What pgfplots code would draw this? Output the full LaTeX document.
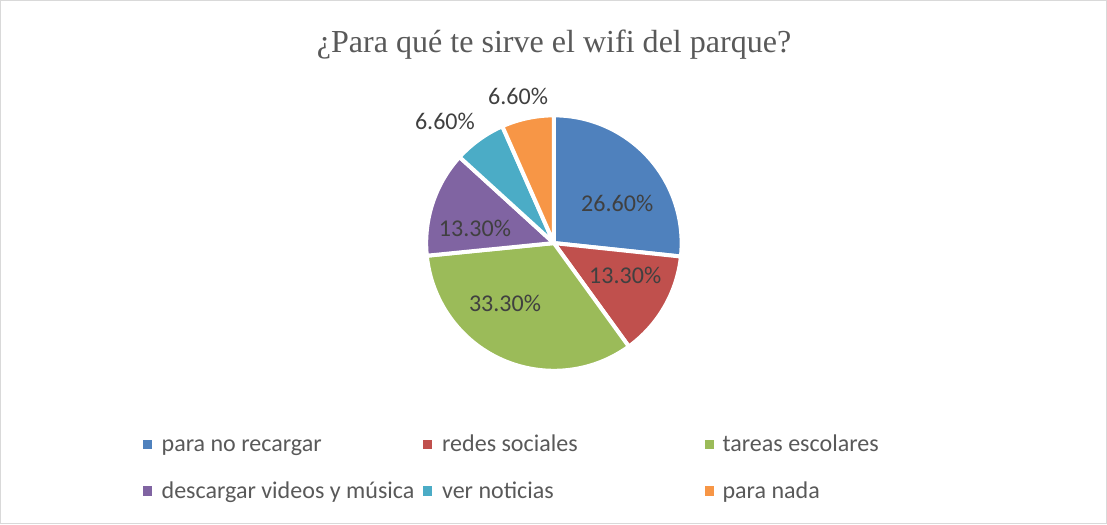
\documentclass[border=0pt]{standalone}
\usepackage{pgfplots}
\pgfplotsset{compat=1.18}
\usepackage{pgfplotstable}
\usepackage{fontspec}
\setmainfont{Carlito}
\newfontfamily\titlefont{Liberation Serif}
\definecolor{c1}{HTML}{4F81BD}
\definecolor{c2}{HTML}{C0504D}
\definecolor{c3}{HTML}{9BBB59}
\definecolor{c4}{HTML}{8064A2}
\definecolor{c5}{HTML}{4BACC6}
\definecolor{c6}{HTML}{F79646}
\definecolor{txtdark}{HTML}{404040}
\definecolor{txtgray}{HTML}{595959}
\definecolor{frame}{HTML}{D9D9D9}

% slice value, colour, label centre (x,y in pixels), legend marker centre
\pgfplotstableread{
value col lx ly gx gy
26.6 c1 617 204.5 148 445
13.3 c2 625 276 428 445
33.3 c3 505 304 709 445
13.3 c4 475 229.5 148 491
6.6 c5 445 122 428 491
6.6 c6 518 97 709 491
}\piedata

\begin{document}
\begin{tikzpicture}
\begin{axis}[
  scale only axis, width=1107pt, height=525pt,
  xmin=0, xmax=1107, ymin=0, ymax=525, y dir=reverse,
  hide axis, clip=false,
]
\draw[frame, line width=1.3pt] (axis cs:1.5,1.5) rectangle (axis cs:1105.3,523.3);
\node[txtgray, font=\titlefont\fontsize{32}{38}\selectfont] at (axis cs:554,45) {¿Para qué te sirve el wifi del parque?};
\def\astart{90}
\pgfplotsforeachungrouped \i in {0,...,5}{%
  \pgfplotstablegetelem{\i}{value}\of\piedata \let\v\pgfplotsretval
  \pgfplotstablegetelem{\i}{col}\of\piedata \let\c\pgfplotsretval
  \pgfmathsetmacro\aend{\astart-\v*360/99.7}%
  \edef\temp{\noexpand\fill[\c, draw=white, line width=4pt, line join=round] (axis cs:553.8,243.5) -- ++(\astart:127.5pt) arc[start angle=\astart, end angle=\aend, radius=127.5pt] -- cycle;}%
  \temp
  \global\let\astart\aend
}
\pgfplotsforeachungrouped \i in {0,...,5}{%
  \pgfplotstablegetelem{\i}{value}\of\piedata \let\v\pgfplotsretval
  \pgfplotstablegetelem{\i}{col}\of\piedata \let\c\pgfplotsretval
  \pgfplotstablegetelem{\i}{lx}\of\piedata \let\lx\pgfplotsretval
  \pgfplotstablegetelem{\i}{ly}\of\piedata \let\ly\pgfplotsretval
  \pgfplotstablegetelem{\i}{gx}\of\piedata \let\gx\pgfplotsretval
  \pgfplotstablegetelem{\i}{gy}\of\piedata \let\gy\pgfplotsretval
  \pgfmathprintnumberto[fixed, fixed zerofill, precision=2, assume math mode=true]{\v}\vtxt
  \edef\temp{\noexpand\node[txtdark, font=\noexpand\fontsize{24}{28}\noexpand\selectfont, inner sep=0pt, anchor=base] at (axis cs:\lx,\ly+7.7) {\vtxt\noexpand\%};
  \noexpand\fill[\c] (axis cs:\gx-4.5,\gy-4.5) rectangle (axis cs:\gx+4.5,\gy+4.5);}%
  \temp
}
\node[txtgray, font=\fontsize{24}{28}\selectfont, anchor=base west, inner sep=0pt] at (axis cs:162,452) {para no recargar};
\node[txtgray, font=\fontsize{24}{28}\selectfont, anchor=base west, inner sep=0pt] at (axis cs:442,452) {redes sociales};
\node[txtgray, font=\fontsize{24}{28}\selectfont, anchor=base west, inner sep=0pt] at (axis cs:722,452) {tareas escolares};
\node[txtgray, font=\fontsize{24}{28}\selectfont, anchor=base west, inner sep=0pt] at (axis cs:162,498) {descargar videos y música};
\node[txtgray, font=\fontsize{24}{28}\selectfont, anchor=base west, inner sep=0pt] at (axis cs:442,498) {ver noticias};
\node[txtgray, font=\fontsize{24}{28}\selectfont, anchor=base west, inner sep=0pt] at (axis cs:722,498) {para nada};
\end{axis}
\end{tikzpicture}
\end{document}
